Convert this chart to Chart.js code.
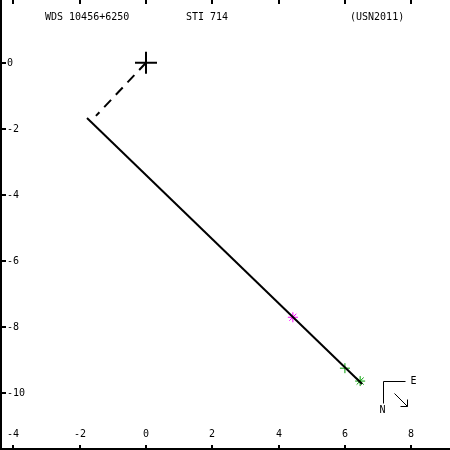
<!DOCTYPE html>
<html>
<head>
<meta charset="utf-8">
<script src="https://cdn.jsdelivr.net/npm/chart.js@4/dist/chart.umd.min.js"></script>
<style>
html,body{margin:0;padding:0;background:#fff;}
#wrap{width:450px;height:450px;}
</style>
</head>
<body>
<div id="wrap"><canvas id="c" width="450" height="450"></canvas></div>
<script>
// ---- data ----
const titleLeft = "WDS 10456+6250";
const titleMid = "STI 714";
const titleRight = "(USN2011)";
const orbitX = [-1.78, 6.52];
const orbitY = [-1.67, -9.72];
const nodeX = [0, -1.51];
const nodeY = [0, -1.61];
const primaryX = [0];
const primaryY = [0];
const magentaX = [4.43];
const magentaY = [-7.70];
const greenPlusX = [6.00];
const greenPlusY = [-9.24];
const greenStarX = [6.46];
const greenStarY = [-9.63];
const xTicks = [-4, -2, 0, 2, 4, 6, 8];
const yTicks = [0, -2, -4, -6, -8, -10];
const compassAt = [7.14, -9.63];

const pts = (xs, ys) => xs.map((x, i) => ({x: x, y: ys[i]}));
const FONT = '10px "DejaVu Sans Mono", "Liberation Mono", monospace';

const deco = {
  id: 'deco',
  afterDatasetsDraw(chart) {
    const ctx = chart.ctx;
    const xs = chart.scales.x, ys = chart.scales.y;
    const W = chart.width, H = chart.height;
    ctx.save();
    ctx.strokeStyle = '#000';
    ctx.fillStyle = '#000';
    ctx.lineWidth = 2;
    // frame: left and bottom
    ctx.beginPath();
    ctx.moveTo(1, 0); ctx.lineTo(1, H - 1);
    ctx.lineTo(W, H - 1);
    ctx.stroke();
    ctx.font = FONT;
    // x ticks top and bottom + labels
    ctx.textAlign = 'center';
    ctx.textBaseline = 'middle';
    xTicks.forEach(v => {
      const px = Math.round(xs.getPixelForValue(v));
      ctx.beginPath();
      ctx.moveTo(px, 0); ctx.lineTo(px, 4);
      ctx.moveTo(px, H - 5); ctx.lineTo(px, H);
      ctx.stroke();
      ctx.fillText(String(v), px, H - 16);
    });
    // y ticks + labels
    ctx.textAlign = 'left';
    yTicks.forEach(v => {
      const py = Math.round(ys.getPixelForValue(v));
      ctx.beginPath();
      ctx.moveTo(0, py); ctx.lineTo(6, py);
      ctx.stroke();
      ctx.fillText(String(v), 7, py);
    });
    // header
    ctx.fillText(titleLeft, 45, 17);
    ctx.fillText(titleMid, 186, 17);
    ctx.fillText(titleRight, 350, 17);
    // compass
    const cx = Math.round(xs.getPixelForValue(compassAt[0])) + 0.5;
    const cy = Math.round(ys.getPixelForValue(compassAt[1])) + 0.5;
    ctx.lineWidth = 1;
    ctx.beginPath();
    ctx.moveTo(cx + 22, cy); ctx.lineTo(cx, cy); ctx.lineTo(cx, cy + 22);
    ctx.moveTo(cx + 11, cy + 12); ctx.lineTo(cx + 24, cy + 25);
    ctx.moveTo(cx + 17, cy + 25); ctx.lineTo(cx + 24, cy + 25); ctx.lineTo(cx + 24, cy + 18);
    ctx.stroke();
    ctx.textAlign = 'center';
    ctx.fillText('E', cx + 30, cy);
    ctx.fillText('N', cx - 1, cy + 29);
    ctx.restore();
  }
};

new Chart(document.getElementById('c'), {
  type: 'scatter',
  data: {
    datasets: [
      {data: pts(orbitX, orbitY), showLine: true, borderColor: '#000', borderWidth: 2, pointRadius: 0},
      {data: pts(nodeX, nodeY), showLine: true, borderColor: '#000', borderWidth: 2, borderDash: [10, 7], pointRadius: 0},
      {data: pts(primaryX, primaryY), pointStyle: 'cross', pointRadius: 11, borderColor: '#000', borderWidth: 2},
      {data: pts(magentaX, magentaY), pointStyle: 'star', pointRadius: 5, borderColor: '#ff00ff', borderWidth: 1},
      {data: pts(greenPlusX, greenPlusY), pointStyle: 'cross', pointRadius: 5, borderColor: '#00a000', borderWidth: 1},
      {data: pts(greenStarX, greenStarY), pointStyle: 'star', pointRadius: 5, borderColor: '#00a000', borderWidth: 1}
    ]
  },
  options: {
    responsive: false,
    animation: false,
    events: [],
    layout: {padding: 0, autoPadding: false},
    plugins: {legend: {display: false}, tooltip: {enabled: false}},
    scales: {
      x: {type: 'linear', display: false, min: -4.404, max: 9.17},
      y: {type: 'linear', display: false, min: -11.715, max: 1.897}
    }
  },
  plugins: [deco]
});
</script>
</body>
</html>
